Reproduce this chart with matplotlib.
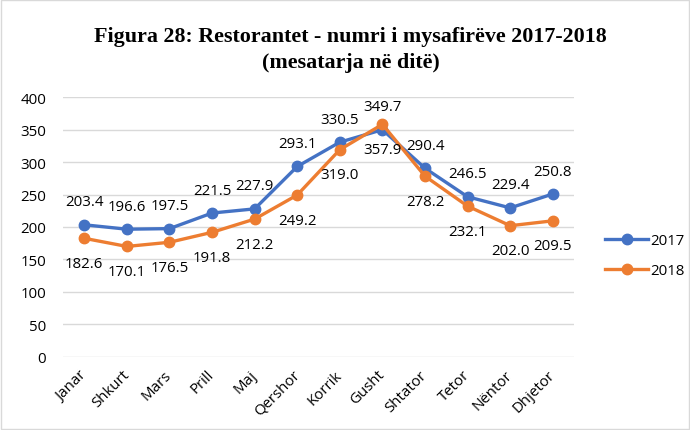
import matplotlib.pyplot as plt
from matplotlib.patches import Rectangle

months = ['Janar', 'Shkurt', 'Mars', 'Prill', 'Maj', 'Qershor', 'Korrik',
          'Gusht', 'Shtator', 'Tetor', 'Nëntor', 'Dhjetor']
visitors_2017 = [203.4, 196.6, 197.5, 221.5, 227.9, 293.1, 330.5, 349.7, 290.4, 246.5, 229.4, 250.8]
visitors_2018 = [182.6, 170.1, 176.5, 191.8, 212.2, 249.2, 319.0, 357.9, 278.2, 232.1, 202.0, 209.5]
y_ticks = [0, 50, 100, 150, 200, 250, 300, 350, 400]

BLUE = '#4472C4'
ORANGE = '#ED7D31'
FONT = 'Open Sans'


def main():
    fig = plt.figure(figsize=(6.9, 4.31), dpi=100)
    ax = fig.add_axes([0.0913, 0.1694, 0.7407, 0.6032])

    x = list(range(len(months)))
    ax.plot(x, visitors_2017, color=BLUE, lw=2.4, marker='o', ms=7.5, label='2017', zorder=3)
    ax.plot(x, visitors_2018, color=ORANGE, lw=2.4, marker='o', ms=7.5, label='2018', zorder=3)

    # data labels: 2017 above the points, 2018 below
    for i in x:
        ax.annotate(f'{visitors_2017[i]:.1f}', (i, visitors_2017[i]), xytext=(0, 16.5),
                    textcoords='offset points', ha='center', va='center',
                    fontsize=10.8, family=FONT, color='#000000')
        ax.annotate(f'{visitors_2018[i]:.1f}', (i, visitors_2018[i]), xytext=(0, -18),
                    textcoords='offset points', ha='center', va='center',
                    fontsize=10.8, family=FONT, color='#000000')

    ax.set_xlim(-0.5, len(months) - 0.5)
    ax.set_ylim(0, 400)
    ax.set_yticks(y_ticks)
    ax.set_yticklabels([str(t) for t in y_ticks], family=FONT, fontsize=10.8)
    ax.set_xticks(x)
    ax.set_xticklabels(months, rotation=45, ha='right', va='center',
                       rotation_mode='anchor', family=FONT, fontsize=10.8)
    ax.tick_params(axis='both', length=0)
    ax.tick_params(axis='y', pad=12)
    ax.tick_params(axis='x', pad=11)

    ax.grid(axis='y', color='#d9d9d9', lw=1)
    ax.set_axisbelow(True)
    for s in ax.spines.values():
        s.set_visible(False)

    fig.text(0.508, 0.914, 'Figura 28: Restorantet - numri i mysafirëve 2017-2018',
             ha='center', va='center', family='Liberation Serif', weight='bold', fontsize=15.8)
    fig.text(0.508, 0.853, '(mesatarja në ditë)',
             ha='center', va='center', family='Liberation Serif', weight='bold', fontsize=15.8)

    fig.legend(loc='center left', bbox_to_anchor=(0.857, 0.405), frameon=False,
               prop={'family': FONT, 'size': 10.8}, handlelength=2.9,
               handletextpad=0.1, labelspacing=1.0)

    fig.patches.append(Rectangle((0.001, 0.002), 0.997, 0.995, transform=fig.transFigure,
                                 fill=False, edgecolor='#d9d9d9', lw=1))

    fig.savefig('out.png', dpi=100)


if __name__ == "__main__":
    main()
